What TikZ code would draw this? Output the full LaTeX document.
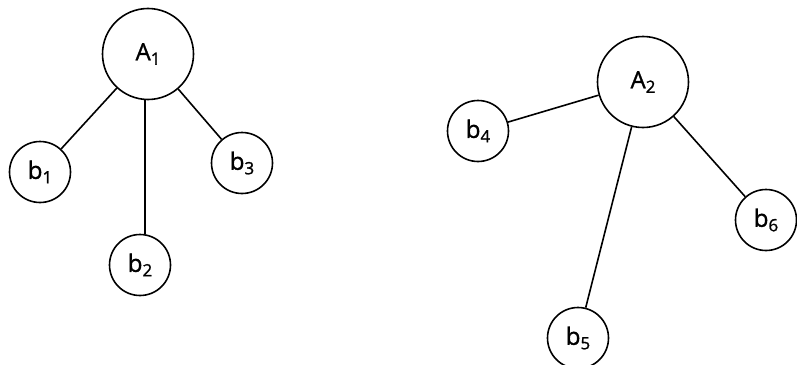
\documentclass[tikz,border=0pt]{standalone}
\usepackage{fontspec}
\setsansfont{Open Sans}[BoldFont={Open Sans},BoldFeatures={FakeBold=1.2}]
\newcommand{\lab}[2]{#1\raisebox{-0.35ex}{\fontsize{17}{17}\selectfont #2}}
\begin{document}
\begin{tikzpicture}[x=1pt,y=-1pt,
  lbl/.style={font=\sffamily\bfseries\fontsize{24}{24}\selectfont},
  big/.style={circle,draw,line width=1.6pt,minimum size=91pt,inner sep=0pt,lbl},
  small/.style={circle,draw,line width=1.6pt,minimum size=61pt,inner sep=0pt,lbl},
  link/.style={line width=1.6pt}]
\useasboundingbox (0,0) rectangle (797,364);
\node[big] (A1) at (148,54) {\lab{A}{1}};
\node[small] (b1) at (40,172) {\lab{b}{1}};
\node[small] (b2) at (140,265) {\lab{b}{2}};
\node[small] (b3) at (242,163) {\lab{b}{3}};
\node[big] (A2) at (643,82) {\lab{A}{2}};
\node[small] (b4) at (478,131) {\lab{b}{4}};
\node[small] (b5) at (578,338) {\lab{b}{5}};
\node[small] (b6) at (766,220) {\lab{b}{6}};
\draw[link] (A1) -- (b1);
\draw[link] (A1.south) ++(-3,0) coordinate (s1) -- (s1 |- b2.north);
\draw[link] (A1) -- (b3);
\draw[link] (A2) -- (b4);
\draw[link] (A2) -- (b5);
\draw[link] (A2) -- (b6);
\end{tikzpicture}
\end{document}
